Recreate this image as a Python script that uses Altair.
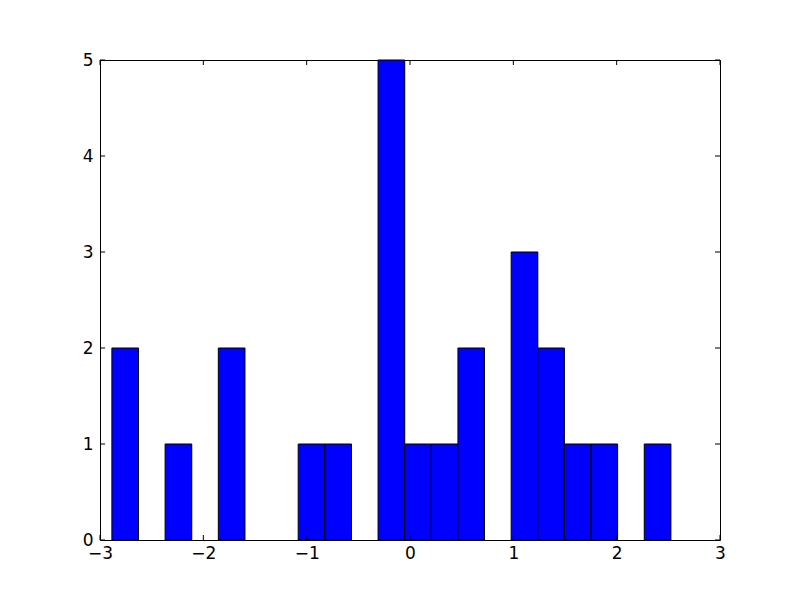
import altair as alt
import pandas as pd

# Histogram bins (left/right edges) and counts
bin_left = [-2.885, -2.370, -1.855, -1.082, -0.824, -0.309, -0.051, 0.206, 0.464, 0.979, 1.237, 1.494, 1.752, 2.267]
bin_right = [-2.627, -2.112, -1.597, -0.824, -0.566, -0.051, 0.206, 0.464, 0.721, 1.237, 1.494, 1.752, 2.009, 2.525]
counts = [2, 1, 2, 1, 1, 5, 1, 1, 2, 3, 2, 1, 1, 1]

x_ticks = [-3, -2, -1, 0, 1, 2, 3]
y_ticks = [0, 1, 2, 3, 4, 5]

W, H = 620, 480
TICK = 5
FONT = "DejaVu Sans"

bars_df = pd.DataFrame({"left": bin_left, "right": bin_right, "count": counts})
xt_df = pd.DataFrame({"xt": x_ticks})
yt_df = pd.DataFrame({"yt": y_ticks})

xscale = alt.Scale(domain=[-3, 3], nice=False, zero=False)
yscale = alt.Scale(domain=[0, 5], nice=False)

minus = "replace(datum.label, '-', '\u2212')"

xaxis = alt.Axis(values=x_ticks, ticks=False, domain=False, grid=False,
                 labelPadding=5, labelFontSize=17, labelFont=FONT,
                 labelColor="black", labelExpr=minus, labelFlush=False)
yaxis = alt.Axis(values=y_ticks, ticks=False, domain=False, grid=False,
                 labelPadding=7, labelFontSize=17, labelFont=FONT,
                 labelColor="black", labelFlush=False)

bars = alt.Chart(bars_df).mark_bar(color="#0000ff", stroke="black", strokeWidth=1).encode(
    x=alt.X("left:Q", scale=xscale, title=None, axis=xaxis),
    x2="right:Q",
    y=alt.Y("count:Q", scale=yscale, title=None, axis=yaxis),
    y2=alt.datum(0),
)

xt_bottom = alt.Chart(xt_df).mark_rule(color="black", strokeWidth=1).encode(
    x=alt.X("xt:Q", scale=xscale, title=None, axis=xaxis),
    y=alt.value(H), y2=alt.value(H - TICK),
)
xt_top = alt.Chart(xt_df).mark_rule(color="black", strokeWidth=1).encode(
    x=alt.X("xt:Q", scale=xscale, title=None, axis=xaxis),
    y=alt.value(0), y2=alt.value(TICK),
)
yt_left = alt.Chart(yt_df).mark_rule(color="black", strokeWidth=1).encode(
    y=alt.Y("yt:Q", scale=yscale, title=None, axis=yaxis),
    x=alt.value(0), x2=alt.value(TICK),
)
yt_right = alt.Chart(yt_df).mark_rule(color="black", strokeWidth=1).encode(
    y=alt.Y("yt:Q", scale=yscale, title=None, axis=yaxis),
    x=alt.value(W), x2=alt.value(W - TICK),
)

chart = alt.layer(bars, xt_bottom, xt_top, yt_left, yt_right).properties(
    width=W, height=H,
    autosize=alt.AutoSizeParams(type="none"),
    padding={"left": 92, "top": 52, "right": 72, "bottom": 52},
    background="white",
).configure_view(stroke="black", strokeWidth=1)

chart.save("out.html", embed_options={"renderer": "svg", "actions": False})
